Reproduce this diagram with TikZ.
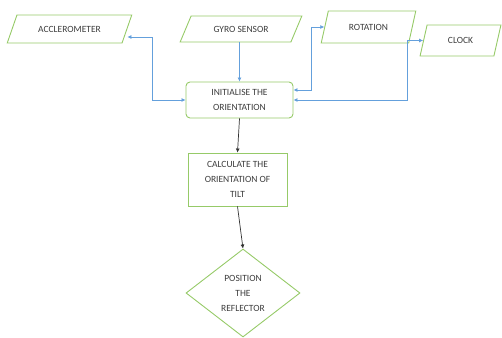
\documentclass[tikz,border=0pt]{standalone}
\usepackage{fontspec}
\setmainfont{Carlito}
\usetikzlibrary{shapes.geometric, arrows.meta}

\definecolor{boxgreen}{RGB}{150,202,104}
\definecolor{linkblue}{RGB}{100,160,220}
\definecolor{txtgray}{RGB}{60,60,60}

\begin{document}
\begin{tikzpicture}[x=1pt, y=-1pt,
  every node/.style={font=\fontsize{9.5}{15}\selectfont, text=txtgray, align=center},
  io/.style={draw=boxgreen, line width=0.9pt, trapezium, trapezium stretches=true,
    inner sep=0pt, trapezium left angle=#1, trapezium right angle={180-#1}},
  process/.style={draw=boxgreen, line width=0.9pt, rectangle, inner sep=0pt},
  decide/.style={draw=boxgreen, line width=0.9pt, diamond, inner sep=0pt,
    minimum width=114pt, minimum height=88pt},
  link/.style={{Latex[length=4pt,width=4pt]}-{Latex[length=4pt,width=4pt]}, linkblue, line width=0.7pt},
  flow/.style={-{Latex[length=4pt,width=4pt]}, black!80, line width=0.7pt}]

\useasboundingbox (0,0) rectangle (502,337);

\node[io=47, minimum width=125pt, minimum height=28pt] (acc) at (69.5,29) {ACCLEROMETER};
\node[io=46, minimum width=122pt, minimum height=26pt] (gyro) at (241,29) {GYRO SENSOR};
\node[io=61, minimum width=95pt, minimum height=32pt] (rot) at (368.5,27) {ROTATION};
\node[io=67, minimum width=81pt, minimum height=31pt] (clock) at (460.5,40.5) {CLOCK};

\node[process, rounded corners=4pt, minimum width=107pt, minimum height=36pt] (init) at (239.5,100) {INITIALISE THE\\ORIENTATION};
\node[process, minimum width=99pt, minimum height=53pt] (calc) at (237.5,179.5) {CALCULATE THE\\ORIENTATION OF\\TILT};
\node[decide] (pos) at (243,293) {POSITION\\THE\\REFLECTOR};

% sensors round the start box
\draw[link, -{Latex[length=4pt,width=4pt]}] (gyro.south -| init.north) -- (init.north);
\draw[link] (init.west) -- ++(-33,0) |- ([yshift=-8pt]acc.east);
\draw[link] ([yshift=10pt]init.east) -- ++(18,0) |- (rot.west);
\draw[link] (init.east) -- ++(114,0) |- (clock.west);

\draw[flow] (init.south) -- (calc.north);
\draw[flow] (calc.south) -- (pos.north);

\end{tikzpicture}
\end{document}
